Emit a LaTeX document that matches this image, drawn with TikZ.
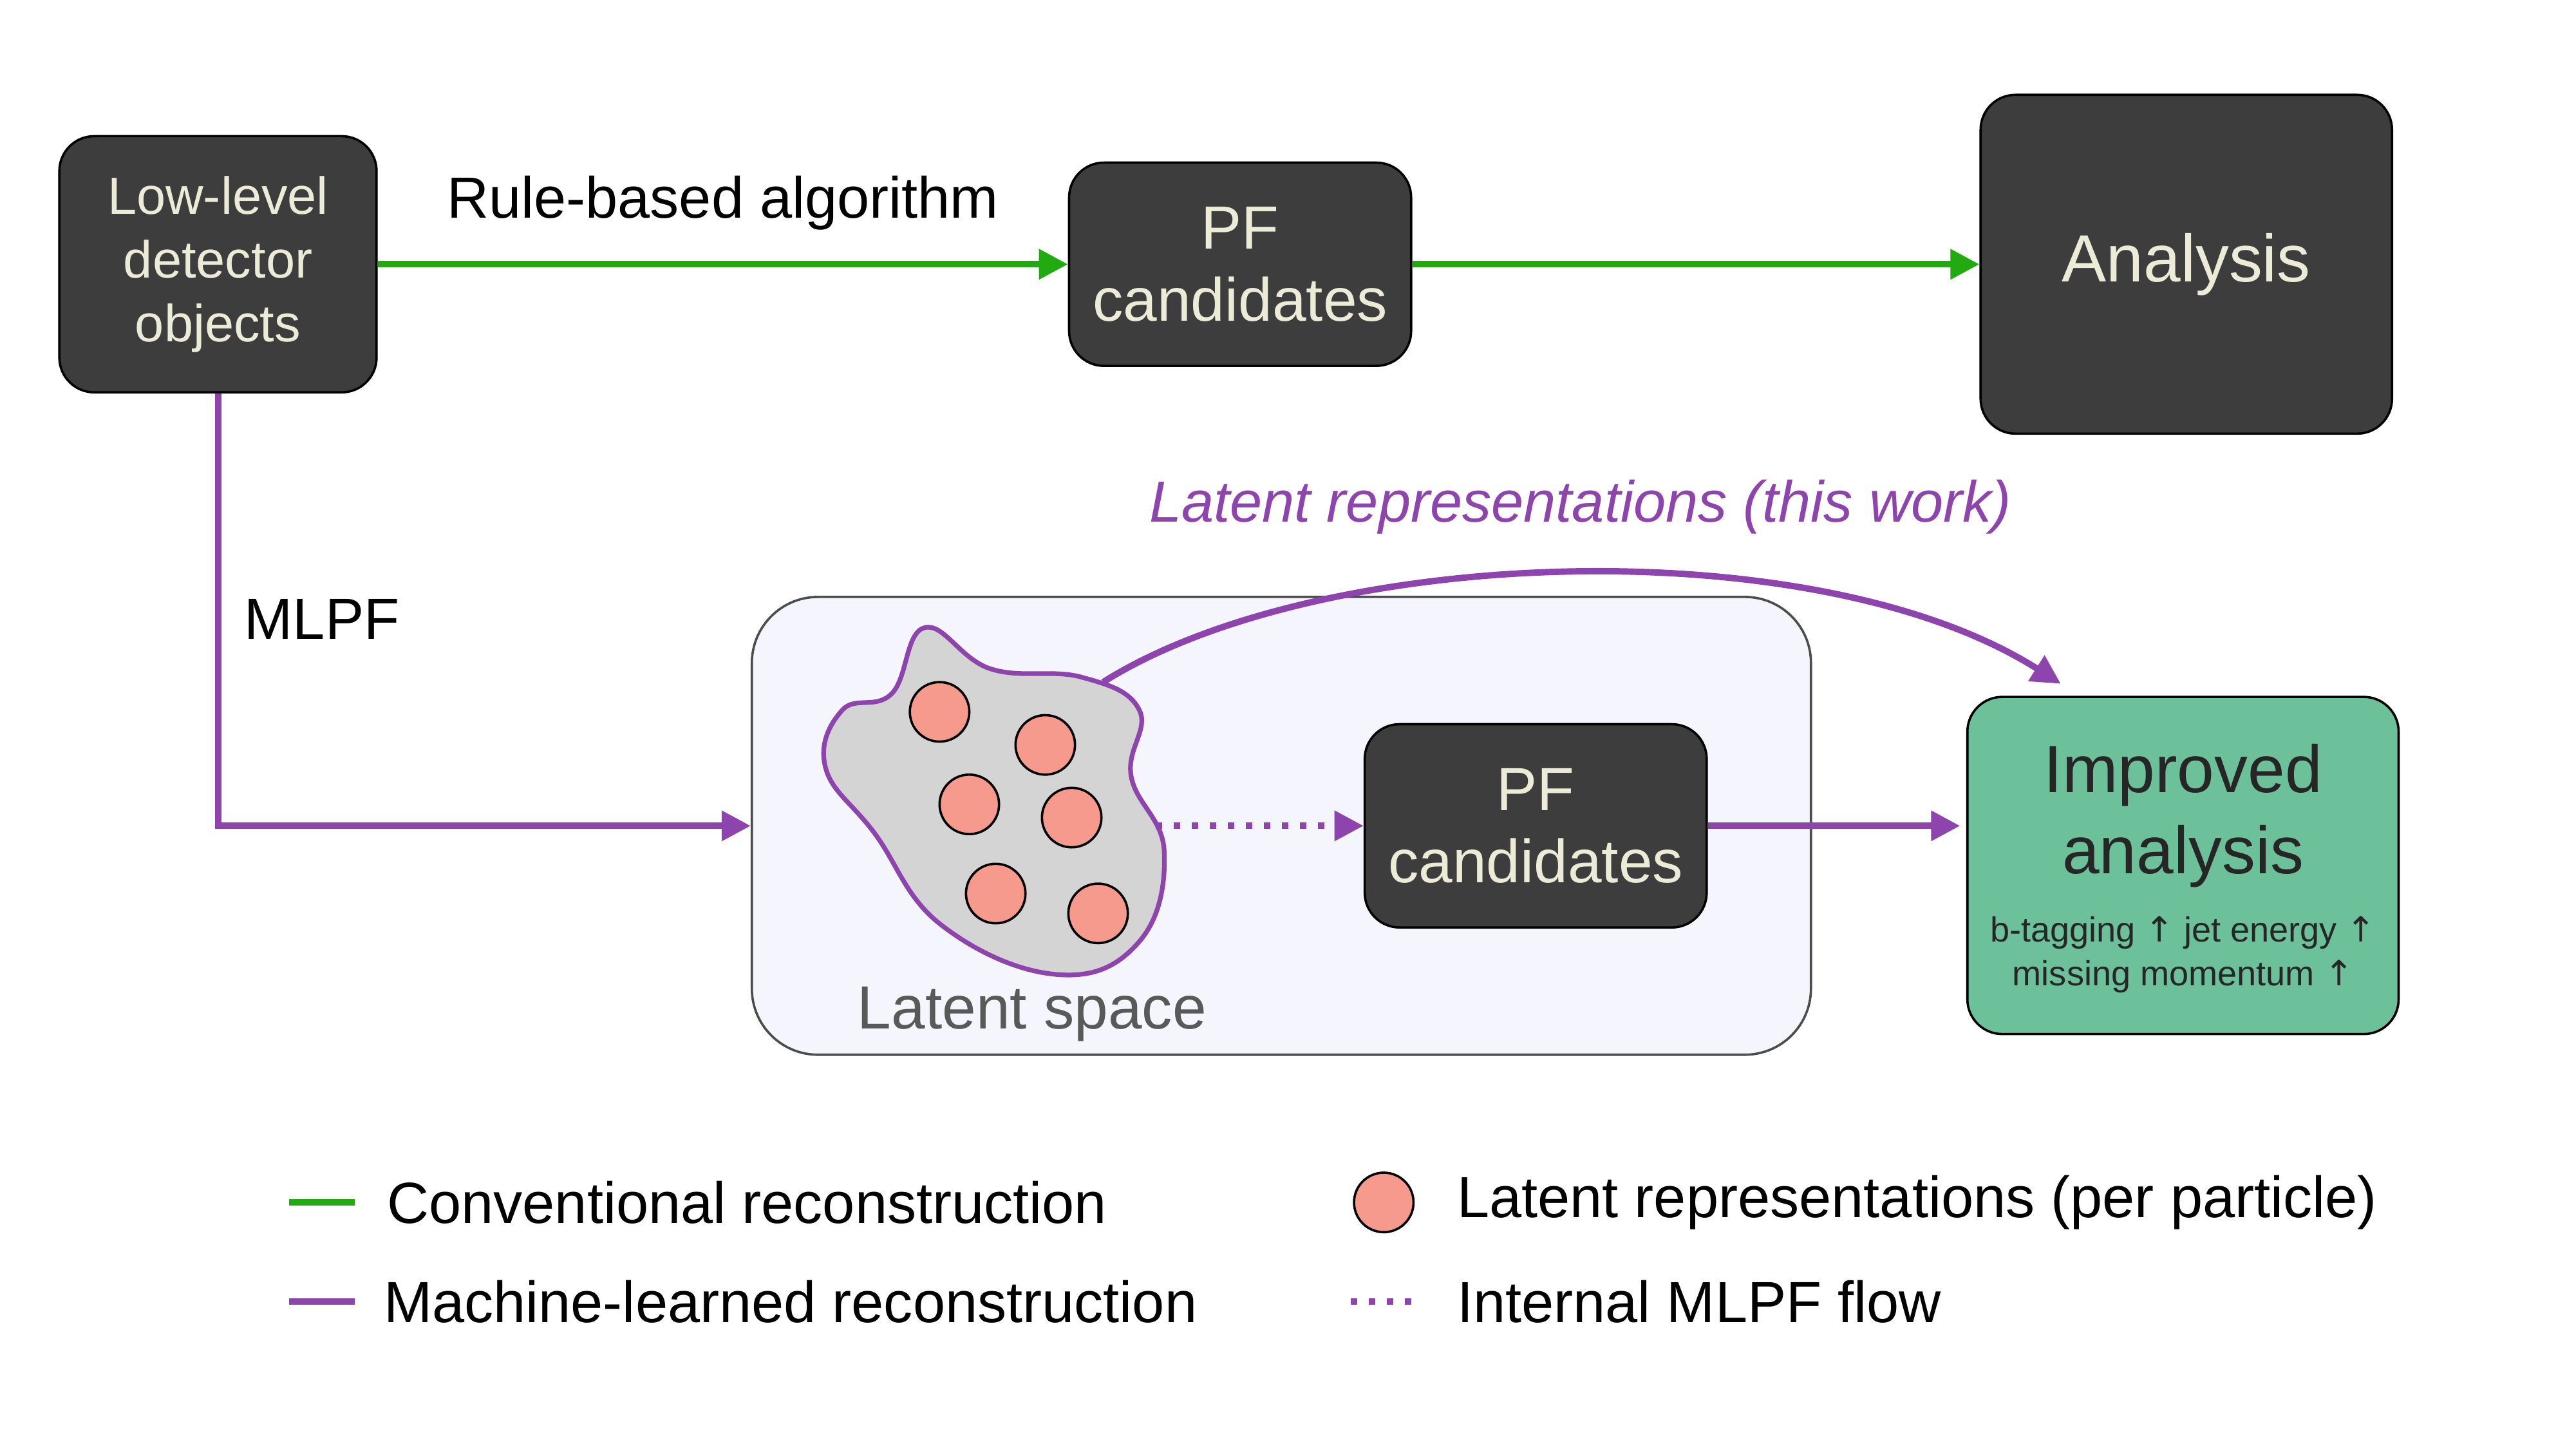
\documentclass[tikz,border=0pt]{standalone}
\usepackage{fontspec}
\setmainfont{Liberation Sans}
\newfontfamily\symfont{DejaVu Sans}
\usetikzlibrary{arrows.meta}
\definecolor{boxdark}{HTML}{3D3D3D}
\definecolor{boxtext}{HTML}{ECEBD8}
\definecolor{convgreen}{HTML}{22AA11}
\definecolor{mlpurple}{HTML}{8E44AD}
\definecolor{latentfill}{HTML}{F5F5FD}
\definecolor{salmon}{HTML}{F79A8E}
\definecolor{goodgreen}{HTML}{6CC19A}
\tikzset{
  darkbox/.style={draw=black, fill=boxdark, rounded corners=6pt, text=boxtext, align=center, inner sep=0pt},
  conv/.style={convgreen, line width=1.1pt, -{Triangle[length=5pt,width=5pt]}},
  mlflow/.style={mlpurple, line width=1.1pt, -{Triangle[length=5pt,width=5pt]}},
  particle/.style={circle, draw=black, fill=salmon, minimum size=0.36cm, inner sep=0pt},
}
\newcommand{\up}{{\symfont\char"2191}}
\begin{document}
\begin{tikzpicture}[x=0.01cm, y=-0.01cm]
  \useasboundingbox (0,0) rectangle (1560,877);
  % top row
  \node[darkbox, minimum width=1.92cm, minimum height=1.55cm, font=\fontsize{9}{11}\selectfont] (lowlevel) at (132,160) {Low-level\\detector\\objects};
  \node[darkbox, minimum width=2.07cm, minimum height=1.23cm, font=\fontsize{10.5}{12.5}\selectfont] (pftop) at (751,160) {PF\\candidates};
  \node[darkbox, minimum width=2.49cm, minimum height=2.05cm, font=\fontsize{11.5}{14}\selectfont] (analysis) at (1324,160) {Analysis};
  \draw[conv] (lowlevel) -- (pftop) node[midway, above=2pt, black, font=\fontsize{10}{12}\selectfont] {Rule-based algorithm};
  \draw[conv] (pftop) -- (analysis);
  % latent space
  \node[draw=black!70, fill=latentfill, rounded corners=0.4cm, minimum width=6.41cm, minimum height=2.77cm, inner sep=0pt] (latent) at (776,500) {};
  \node[text=black!65, font=\fontsize{10.5}{12}\selectfont] (latentlabel) at (625,614) {Latent space};
  \draw[mlpurple, fill=black!17, line width=0.8pt] plot[smooth cycle, tension=0.7] coordinates {(560,380) (600,405) (655,410) (690,430) (685,470) (705,515) (690,570) (640,590) (570,560) (530,505) (500,465) (510,430) (540,420)};
  \foreach \px/\py [count=\i] in {569/431, 633/451, 587/487, 649/495, 603/541, 665/553} {
    \node[particle] (p\i) at (\px,\py) {};
  }
  \coordinate (blobout) at (700,500);
  \coordinate (blobtop) at (668,413);
  \node[darkbox, minimum width=2.07cm, minimum height=1.23cm, font=\fontsize{10.5}{12.5}\selectfont] (pfbottom) at (930,500) {PF\\candidates};
  \node[draw=black, fill=goodgreen, rounded corners=6pt, minimum width=2.61cm, minimum height=2.04cm, inner sep=0pt] (improved) at (1322,524) {};
  \node[text=black!85, align=center, font=\fontsize{11.5}{14}\selectfont] (improvedtitle) at (1322,494) {Improved\\analysis};
  \node[text=black!85, align=center, font=\fontsize{6}{7.5}\selectfont] (improvedsub) at (1322,578) {b-tagging \up{} jet energy \up\\missing momentum \up};
  % MLPF path
  \coordinate (corner) at (132,500);
  \draw[mlflow] (lowlevel.south) -- (corner) -- (latent.west);
  \node[font=\fontsize{10}{12}\selectfont] (mlpflabel) at (195,375) {MLPF};
  \draw[mlflow, dotted] (blobout) -- (pfbottom.west);
  \draw[mlflow] (pfbottom.east) -- (1187,500);
  \draw[mlflow] (blobtop) .. controls (800,330) and (1100,320) .. (1248,414);
  \node[mlpurple, font=\fontsize{10}{12}\selectfont\itshape] (latentrep) at (957,307) {Latent representations (this work)};
  % legend
  \draw[convgreen, line width=1.1pt] (175,728) -- (215,728);
  \node[anchor=west, font=\fontsize{10}{12}\selectfont] (legconv) at (222,728) {Conventional reconstruction};
  \draw[mlpurple, line width=1.1pt] (175,788) -- (215,788);
  \node[anchor=west, font=\fontsize{10}{12}\selectfont] (legml) at (220,788) {Machine-learned reconstruction};
  \node[particle] (legparticle) at (838,728) {};
  \node[anchor=west, font=\fontsize{10}{12}\selectfont] (leglatent) at (870,728) {Latent representations (per particle)};
  \draw[mlpurple, line width=1.1pt, dotted] (818,788) -- (858,788);
  \node[anchor=west, font=\fontsize{10}{12}\selectfont] (leginternal) at (870,788) {Internal MLPF flow};
\end{tikzpicture}
\end{document}
